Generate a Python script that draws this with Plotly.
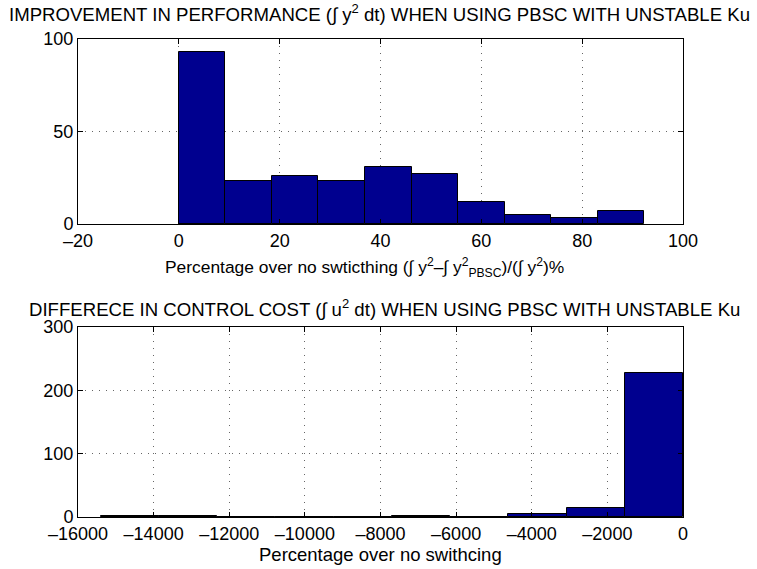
import numpy as np
import plotly.graph_objects as go

# Histogram of performance improvement (%), 10 equal bins
perf_range = [0.0, 92.3]
perf_counts = [93, 23, 26, 23, 31, 27, 12, 5, 3, 7]

# Histogram of control-cost difference (%), 10 equal bins
cost_range = [-15400.0, 0.0]
cost_counts = [1, 1, 0, 0, 0, 2, 0, 5, 14, 227]

perf_xticks = [-20, 0, 20, 40, 60, 80, 100]
perf_yticks = [0, 50, 100]
cost_xticks = [-16000, -14000, -12000, -10000, -8000, -6000, -4000, -2000, 0]
cost_yticks = [0, 100, 200, 300]

title_top = "IMPROVEMENT IN PERFORMANCE (\u222b y<sup>2</sup> dt) WHEN USING PBSC WITH UNSTABLE Ku"
xlabel_top = ("Percentage over no swticthing (\u222b y<sup>2</sup>\u2013\u222b y<sup>2</sup>"
              "<sub>PBSC</sub>)/(\u222b y<sup>2</sup>)%")
title_bot = "DIFFERECE IN CONTROL COST (\u222b u<sup>2</sup> dt) WHEN USING PBSC WITH UNSTABLE Ku"
xlabel_bot = "Percentage over no swithcing"


def bins(rng, counts):
    edges = np.linspace(rng[0], rng[1], len(counts) + 1)
    centers = (edges[:-1] + edges[1:]) / 2
    width = edges[1] - edges[0]
    return centers, width


def minus(v):
    return str(v).replace("-", "\u2013")


BAR = "#00008f"
FONT = "Liberation Sans, Arial, Helvetica, sans-serif"

fig = go.Figure()
c1, w1 = bins(perf_range, perf_counts)
fig.add_trace(go.Bar(x=c1, y=perf_counts, width=w1, marker=dict(color=BAR, line=dict(color="black", width=1)),
                     xaxis="x", yaxis="y", showlegend=False))
c2, w2 = bins(cost_range, cost_counts)
fig.add_trace(go.Bar(x=c2, y=cost_counts, width=w2, marker=dict(color=BAR, line=dict(color="black", width=1)),
                     xaxis="x2", yaxis="y2", showlegend=False))

W, H = 757, 569
x0, x1 = 78 / W, 683 / W
top_dom = [1 - 224 / H, 1 - 39 / H]
bot_dom = [1 - 517 / H, 1 - 327 / H]

axis_common = dict(
    showline=True, linecolor="black", linewidth=1, mirror="ticks",
    ticks="inside", ticklen=5, tickcolor="black", automargin=False,
    showgrid=True, gridcolor="rgba(0,0,0,0.6)", griddash="1px,6px", gridwidth=1,
    zeroline=False, tickfont=dict(family=FONT, size=18, color="black"),
)

fig.update_layout(
    width=W, height=H, margin=dict(l=0, r=0, t=0, b=0, autoexpand=False),
    paper_bgcolor="white", plot_bgcolor="white", bargap=0,
    font=dict(family=FONT, color="black"),
    xaxis=dict(domain=[x0, x1], anchor="y", range=[-20, 100], tickvals=perf_xticks,
               ticktext=[minus(v) for v in perf_xticks], **axis_common),
    yaxis=dict(domain=top_dom, anchor="x", range=[0, 100], tickvals=perf_yticks, **axis_common),
    xaxis2=dict(domain=[x0, x1], anchor="y2", range=[-16000, 0], tickvals=cost_xticks,
                ticktext=[minus(v) for v in cost_xticks], **axis_common),
    yaxis2=dict(domain=bot_dom, anchor="x2", range=[0, 300], tickvals=cost_yticks, **axis_common),
)

# titles and axis labels: (text, centre x px, centre y px, font size)
labels = [
    (title_top, 379, 13, 18.6),
    (xlabel_top, 364, 268, 17.4),
    (title_bot, 384, 308, 18.6),
    (xlabel_bot, 380, 554, 18.5),
]
for text, xpx, ypx, size in labels:
    fig.add_annotation(text=text, x=xpx / W, y=1 - ypx / H, xref="paper", yref="paper",
                       xanchor="center", yanchor="middle", showarrow=False,
                       font=dict(family=FONT, size=size, color="black"))

fig.write_html("out.html")
